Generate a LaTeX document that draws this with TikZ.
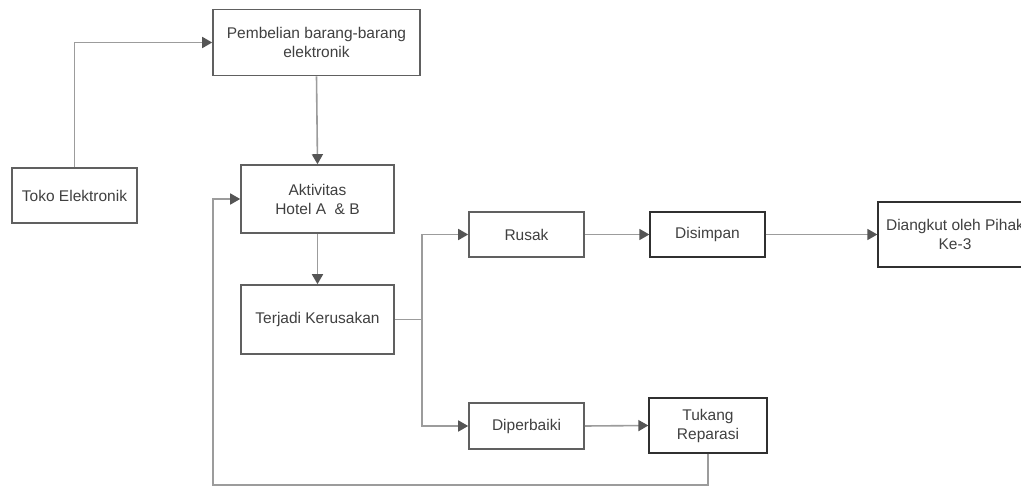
\documentclass[tikz,border=0pt]{standalone}
\usepackage{fontspec}
\setmainfont{Liberation Sans}
\usetikzlibrary{arrows.meta}
\definecolor{boxc}{HTML}{606060}
\definecolor{boxd}{HTML}{303030}
\definecolor{linec}{HTML}{9C9C9C}
\definecolor{tipc}{HTML}{555555}
\definecolor{txtc}{HTML}{404040}
\begin{document}
\begin{tikzpicture}[x=1pt,y=-1pt,
  stepbox/.style={draw=boxc, line width=1.6pt, fill=white, text=txtc, align=center,
    inner sep=0pt, font=\fontsize{15.5}{19}\selectfont},
  darkbox/.style={stepbox, draw=boxd, line width=1.3pt},
  conn/.style={draw=linec, line width=1.6pt,
    -{Triangle[length=10pt,width=11pt,color=tipc,fill=tipc]}},
  plain/.style={draw=linec, line width=1.6pt}]
\useasboundingbox (0,0) rectangle (1021,487);
\clip (0,0) rectangle (1021,487);
\fill[white] (0,0) rectangle (1021,487);

\node[stepbox, minimum width=207pt, minimum height=66pt] (pemb) at (316.5,42.5) {Pembelian barang-barang\\elektronik};
\node[stepbox, minimum width=125pt, minimum height=55pt] (toko) at (74.5,195.5) {Toko Elektronik};
\node[stepbox, minimum width=153pt, minimum height=68pt] (akt) at (317.5,199) {Aktivitas\\Hotel A\ \ \& B};
\node[stepbox, minimum width=153pt, minimum height=69pt] (terj) at (317.5,319.5) {Terjadi Kerusakan};
\node[stepbox, minimum width=115pt, minimum height=45pt] (rusak) at (526.5,234.5) {Rusak};
\node[stepbox, minimum width=115pt, minimum height=46pt] (dip) at (526.5,426) {Diperbaiki};
\node[darkbox, minimum width=115pt, minimum height=45pt] (dis) at (707.5,234.5) {Disimpan};
\node[darkbox, minimum width=118pt, minimum height=55pt] (tuk) at (708,425.5) {Tukang\\Reparasi};
\node[darkbox, minimum width=154pt, minimum height=65pt] (diang) at (955,234.5) {Diangkut oleh Pihak\\Ke-3};

\coordinate (br) at (422,319.5);
\coordinate (fb1) at (708,485);
\coordinate (fb2) at (213,485);

\draw[conn] (toko.north) |- (pemb.west);
\draw[conn] (pemb.south) -- (akt.north);
\draw[conn] (akt.south) -- (terj.north);
\draw[plain] (terj.east) -- (br);
\draw[conn] (br) |- (rusak.west);
\draw[conn] (br) |- (dip.west);
\draw[conn] (rusak.east) -- (dis.west);
\draw[conn] (dis.east) -- (diang.west);
\draw[conn] (dip.east) -- (tuk.west);
\draw[conn] (tuk.south) -- (fb1) -- (fb2) |- (akt.west);
\end{tikzpicture}
\end{document}
